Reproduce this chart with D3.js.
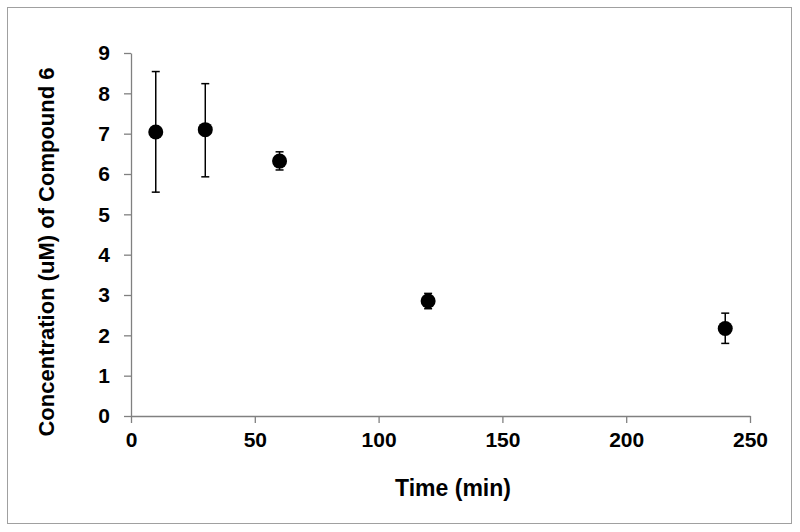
<!DOCTYPE html>
<html>
<head>
<meta charset="utf-8">
<script src="https://cdn.jsdelivr.net/npm/d3@7"></script>
<style>
  body { margin: 0; background: #fff; }
  svg { display: block; font-family: "Liberation Sans", Arial, sans-serif; }
</style>
</head>
<body>
<svg id="chart" width="800" height="532"></svg>
<script>
// data
const times = [10, 30, 60, 120, 240];
const conc = [7.04, 7.10, 6.32, 2.85, 2.17];
const errLow = [5.55, 5.93, 6.10, 2.66, 1.80];
const errHigh = [8.54, 8.24, 6.55, 3.04, 2.55];
const xTicks = [0, 50, 100, 150, 200, 250];
const yTicks = [0, 1, 2, 3, 4, 5, 6, 7, 8, 9];

const svg = d3.select('#chart');

// outer frame
svg.append('rect')
  .attr('x', 7.5).attr('y', 7.5)
  .attr('width', 784).attr('height', 516)
  .attr('fill', 'none').attr('stroke', '#a0a0a0').attr('stroke-width', 1);

const x = d3.scaleLinear().domain([0, 250]).range([131, 750]);
const y = d3.scaleLinear().domain([0, 9]).range([416, 53]);

const axisCol = '#808080';

const xAxis = svg.append('g')
  .attr('transform', 'translate(0,416)')
  .call(d3.axisBottom(x).tickValues(xTicks).tickSize(7).tickPadding(9).tickSizeOuter(0));
const yAxis = svg.append('g')
  .attr('transform', 'translate(131,0)')
  .call(d3.axisLeft(y).tickValues(yTicks).tickSize(7).tickPadding(14).tickSizeOuter(0));

[xAxis, yAxis].forEach(g => {
  g.select('.domain').attr('stroke', axisCol).attr('stroke-width', 1.3);
  g.selectAll('.tick line').attr('stroke', axisCol).attr('stroke-width', 1.3);
  g.selectAll('.tick text')
    .attr('fill', '#000')
    .style('font-size', '21px')
    .style('font-weight', 'bold')
    .style('font-family', '"Liberation Sans", Arial, sans-serif');
});

// error bars
const pts = times.map((t, i) => ({t, v: conc[i], lo: errLow[i], hi: errHigh[i]}));
const eb = svg.append('g').attr('stroke', '#000').attr('stroke-width', 1.5);
eb.selectAll('line.v').data(pts).join('line')
  .attr('class', 'v')
  .attr('x1', d => x(d.t)).attr('x2', d => x(d.t))
  .attr('y1', d => y(d.lo)).attr('y2', d => y(d.hi));
eb.selectAll('line.top').data(pts).join('line')
  .attr('class', 'top')
  .attr('x1', d => x(d.t) - 4).attr('x2', d => x(d.t) + 4)
  .attr('y1', d => y(d.hi)).attr('y2', d => y(d.hi));
eb.selectAll('line.bot').data(pts).join('line')
  .attr('class', 'bot')
  .attr('x1', d => x(d.t) - 4).attr('x2', d => x(d.t) + 4)
  .attr('y1', d => y(d.lo)).attr('y2', d => y(d.lo));

svg.append('g').selectAll('circle').data(pts).join('circle')
  .attr('cx', d => x(d.t)).attr('cy', d => y(d.v))
  .attr('r', 7.5).attr('fill', '#000');

// axis titles
svg.append('text')
  .attr('x', 453).attr('y', 496)
  .attr('text-anchor', 'middle')
  .style('font-size', '23px').style('font-weight', 'bold')
  .text('Time (min)');

svg.append('text')
  .attr('transform', 'translate(54,252) rotate(-90)')
  .attr('text-anchor', 'middle')
  .style('font-size', '22px').style('font-weight', 'bold')
  .text('Concentration (uM) of Compound 6');
</script>
</body>
</html>
